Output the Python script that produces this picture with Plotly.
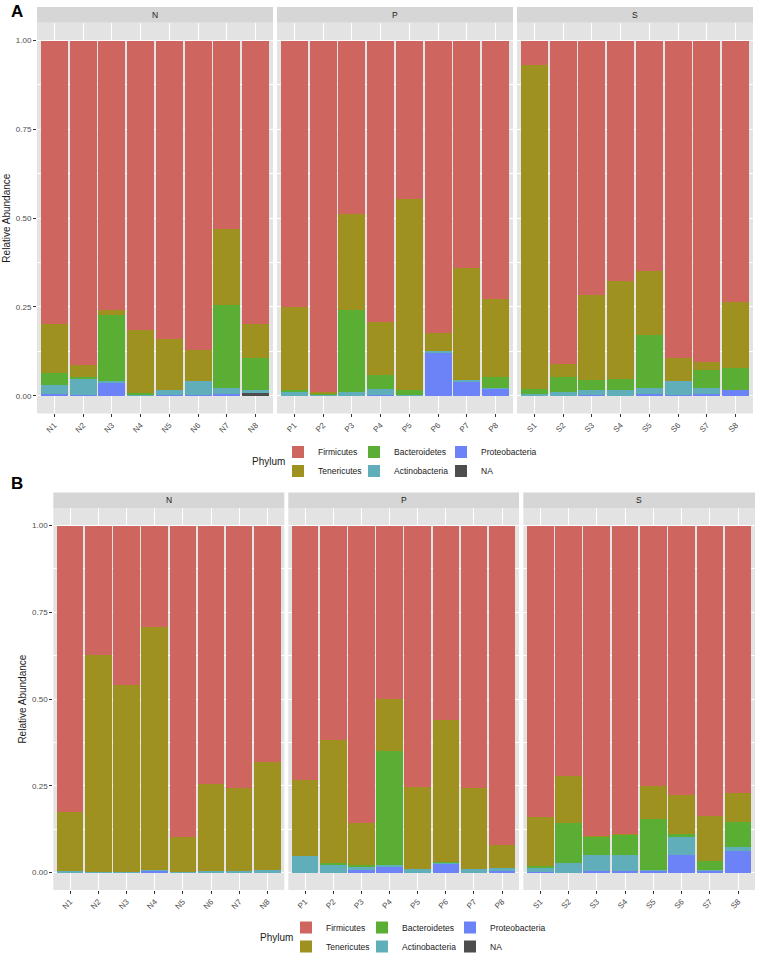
import plotly.graph_objects as go

W, H = 757, 961

groups = ["N", "P", "S"]
samples_N = ["N1", "N2", "N3", "N4", "N5", "N6", "N7", "N8"]
samples_P = ["P1", "P2", "P3", "P4", "P5", "P6", "P7", "P8"]
samples_S = ["S1", "S2", "S3", "S4", "S5", "S6", "S7", "S8"]
samples = {"N": samples_N, "P": samples_P, "S": samples_S}

phyla = ["Firmicutes", "Tenericutes", "Bacteroidetes", "Actinobacteria", "Proteobacteria", "NA"]
colors = {
    "Firmicutes": "#CF655F",
    "Tenericutes": "#9E9120",
    "Bacteroidetes": "#5AAE33",
    "Actinobacteria": "#60AEB9",
    "Proteobacteria": "#6C83F8",
    "NA": "#4D4D4D",
}

# Panel A values, order N1..N8, P1..P8, S1..S8
A_Firmicutes = [0.799, 0.913, 0.760, 0.816, 0.840, 0.870, 0.531, 0.798,
                0.750, 0.989, 0.488, 0.793, 0.447, 0.823, 0.640, 0.727,
                0.070, 0.911, 0.717, 0.678, 0.648, 0.893, 0.905, 0.735]
A_Tenericutes = [0.137, 0.034, 0.014, 0.176, 0.143, 0.088, 0.214, 0.097,
                 0.235, 0.003, 0.271, 0.150, 0.538, 0.051, 0.317, 0.220,
                 0.911, 0.036, 0.239, 0.274, 0.180, 0.066, 0.023, 0.186]
A_Bacteroidetes = [0.034, 0.007, 0.184, 0.003, 0.000, 0.000, 0.232, 0.088,
                   0.004, 0.004, 0.231, 0.039, 0.012, 0.000, 0.000, 0.030,
                   0.015, 0.043, 0.028, 0.032, 0.150, 0.000, 0.050, 0.063]
A_Actinobacteria = [0.026, 0.043, 0.006, 0.005, 0.015, 0.040, 0.019, 0.009,
                    0.011, 0.004, 0.010, 0.015, 0.003, 0.006, 0.003, 0.003,
                    0.004, 0.010, 0.014, 0.016, 0.018, 0.038, 0.018, 0.000]
A_Proteobacteria = [0.004, 0.003, 0.036, 0.000, 0.002, 0.002, 0.004, 0.000,
                    0.000, 0.000, 0.000, 0.003, 0.000, 0.120, 0.040, 0.020,
                    0.000, 0.000, 0.002, 0.000, 0.004, 0.003, 0.004, 0.016]
A_NA = [0.000, 0.000, 0.000, 0.000, 0.000, 0.000, 0.000, 0.008,
        0.000, 0.000, 0.000, 0.000, 0.000, 0.000, 0.000, 0.000,
        0.000, 0.000, 0.000, 0.000, 0.000, 0.000, 0.000, 0.000]

# Panel B values
B_Firmicutes = [0.824, 0.373, 0.459, 0.292, 0.896, 0.746, 0.755, 0.681,
                0.732, 0.617, 0.856, 0.501, 0.752, 0.559, 0.755, 0.920,
                0.840, 0.721, 0.895, 0.889, 0.750, 0.776, 0.836, 0.770]
B_Tenericutes = [0.172, 0.626, 0.538, 0.699, 0.101, 0.250, 0.241, 0.310,
                 0.219, 0.356, 0.123, 0.149, 0.238, 0.411, 0.235, 0.067,
                 0.140, 0.135, 0.002, 0.003, 0.095, 0.112, 0.131, 0.083]
B_Bacteroidetes = [0.000, 0.000, 0.000, 0.000, 0.000, 0.000, 0.000, 0.000,
                   0.000, 0.003, 0.006, 0.329, 0.000, 0.003, 0.000, 0.000,
                   0.005, 0.117, 0.051, 0.056, 0.148, 0.009, 0.024, 0.073]
B_Actinobacteria = [0.004, 0.001, 0.003, 0.005, 0.003, 0.004, 0.004, 0.009,
                    0.049, 0.024, 0.007, 0.003, 0.010, 0.002, 0.010, 0.007,
                    0.012, 0.027, 0.046, 0.046, 0.003, 0.053, 0.005, 0.011]
B_Proteobacteria = [0.000, 0.000, 0.000, 0.004, 0.000, 0.000, 0.000, 0.000,
                    0.000, 0.000, 0.008, 0.018, 0.000, 0.025, 0.000, 0.006,
                    0.003, 0.000, 0.006, 0.006, 0.004, 0.050, 0.004, 0.063]
B_NA = [0.0] * 24

panel_data = {
    "A": {"Firmicutes": A_Firmicutes, "Tenericutes": A_Tenericutes, "Bacteroidetes": A_Bacteroidetes,
          "Actinobacteria": A_Actinobacteria, "Proteobacteria": A_Proteobacteria, "NA": A_NA},
    "B": {"Firmicutes": B_Firmicutes, "Tenericutes": B_Tenericutes, "Bacteroidetes": B_Bacteroidetes,
          "Actinobacteria": B_Actinobacteria, "Proteobacteria": B_Proteobacteria, "NA": B_NA},
}

# layout geometry (pixels)
panels = ["A", "B"]
facet_x = {
    "A": [(37, 273), (277, 513), (517, 753)],
    "B": [(53.3, 284.3), (288.3, 519), (523.3, 755)],
}
plot_y = {"A": (23, 416.5), "B": (512, 896.5)}
strip_y = {"A": (7, 23), "B": (496, 512)}
legend_y = {"A": 465, "B": 944}
legend_key_x = {"A": [298, 374, 461], "B": [306, 382, 470]}
panel_label = {"A": (16.5, 12), "B": (17, 487)}

legend_col = {"Firmicutes": 0, "Tenericutes": 0, "Bacteroidetes": 1,
              "Actinobacteria": 1, "Proteobacteria": 2, "NA": 2}
legend_rank = {p: i + 1 for i, p in enumerate(phyla)}

FONT = "Liberation Sans, Arial, sans-serif"

def px(x):
    return x / W

def py(y):
    return 1 - y / H

fig = go.Figure()
layout = dict(
    width=W, height=H, autosize=False,
    margin=dict(l=0, r=0, t=0, b=0),
    paper_bgcolor="white", plot_bgcolor="#E3E3E3",
    barmode="stack", bargap=0.06,
    font=dict(family=FONT, size=8, color="#4D4D4D"),
    shapes=[], annotations=[],
)

k = 0
for pi, pan in enumerate(panels):
    for j, g in enumerate(groups):
        k += 1
        xa = "x" if k == 1 else f"x{k}"
        ya = "y" if k == 1 else f"y{k}"
        sl = slice(j * 8, j * 8 + 8)
        for ph in reversed(phyla):
            vals = panel_data[pan][ph][sl]
            leg_id = pi * 3 + legend_col[ph] + 1
            fig.add_trace(go.Bar(
                x=samples[g], y=vals, name=ph,
                marker=dict(color=colors[ph], line=dict(width=0)),
                xaxis=xa, yaxis=ya,
                showlegend=(j == 0),
                legend="legend" if leg_id == 1 else f"legend{leg_id}",
                legendrank=legend_rank[ph],
                hovertemplate="%{x}<br>" + ph + ": %{y:.3f}<extra></extra>",
            ))
        x0, x1 = facet_x[pan][j]
        y0, y1 = plot_y[pan]
        xkey = "xaxis" if k == 1 else f"xaxis{k}"
        ykey = "yaxis" if k == 1 else f"yaxis{k}"
        layout[xkey] = dict(
            domain=[px(x0), px(x1)], anchor=ya, type="category",
            range=[-0.6, 7.6], showgrid=True, gridcolor="white", gridwidth=1,
            ticks="outside", ticklen=3, tickcolor="#333333", tickwidth=1,
            tickangle=-45, tickfont=dict(size=8, color="#4D4D4D"),
            showline=False, zeroline=False, fixedrange=True,
        )
        layout[ykey] = dict(
            domain=[py(y1), py(y0)], anchor=xa, range=[-0.05, 1.05],
            tickvals=[0, 0.25, 0.5, 0.75, 1.0], tickformat=".2f",
            showticklabels=(j == 0), ticks="outside" if j == 0 else "",
            ticklen=3, tickcolor="#333333", tickwidth=1,
            tickfont=dict(size=8, color="#4D4D4D"),
            showgrid=True, gridcolor="white", gridwidth=1,
            minor=dict(tickvals=[0.125, 0.375, 0.625, 0.875], showgrid=True,
                       gridcolor="white", gridwidth=0.5, ticks=""),
            zeroline=False, showline=False, fixedrange=True,
        )
        if j == 0:
            layout[ykey]["title"] = dict(text="Relative Abundance",
                                         font=dict(size=10, color="#1A1A1A"), standoff=3)
        sy0, sy1 = strip_y[pan]
        layout["shapes"].append(dict(
            type="rect", xref="paper", yref="paper",
            x0=px(x0), x1=px(x1), y0=py(sy1), y1=py(sy0),
            fillcolor="#D6D6D6", line=dict(width=0), layer="below",
        ))
        layout["annotations"].append(dict(
            text=g, xref="paper", yref="paper", x=px((x0 + x1) / 2), y=py((sy0 + sy1) / 2),
            showarrow=False, font=dict(size=8.5, color="#1A1A1A"),
            xanchor="center", yanchor="middle",
        ))
    # legends (one per legend column, ggplot fills columns first)
    for c in range(3):
        leg_id = pi * 3 + c + 1
        lkey = "legend" if leg_id == 1 else f"legend{leg_id}"
        layout[lkey] = dict(
            x=px(legend_key_x[pan][c] - 20), y=py(legend_y[pan]),
            xanchor="left", yanchor="middle", orientation="v",
            bgcolor="rgba(0,0,0,0)", borderwidth=0,
            font=dict(size=8.5, color="#1A1A1A"), traceorder="normal",
            itemclick=False, itemdoubleclick=False,
        )
    layout["annotations"].append(dict(
        text="Phylum", xref="paper", yref="paper",
        x=px(legend_key_x[pan][0] - 11), y=py(legend_y[pan]),
        showarrow=False, font=dict(size=10, color="#1A1A1A"),
        xanchor="right", yanchor="middle",
    ))
    lx, ly = panel_label[pan]
    layout["annotations"].append(dict(
        text="<b>" + pan + "</b>", xref="paper", yref="paper", x=px(lx), y=py(ly),
        showarrow=False, font=dict(size=17, color="black", family=FONT),
        xanchor="center", yanchor="middle",
    ))

fig.update_layout(**layout)
fig.write_html(
    "out.html",
    config={"displayModeBar": False},
    post_script="document.body.style.margin='0px';document.body.style.padding='0px';",
)
